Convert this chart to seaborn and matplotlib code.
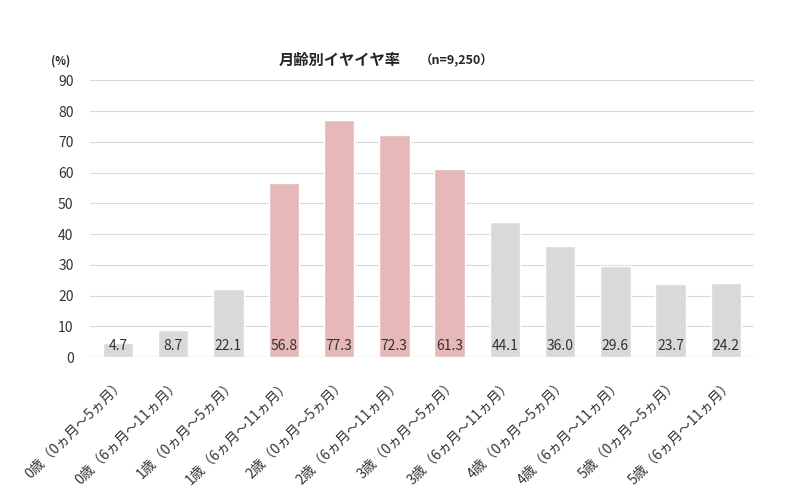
import matplotlib
matplotlib.use('Agg')
import matplotlib.pyplot as plt
import seaborn as sns
import pandas as pd

categories = ['0歳（0ヵ月～5ヵ月）', '0歳（6ヵ月～11ヵ月）', '1歳（0ヵ月～5ヵ月）', '1歳（6ヵ月～11ヵ月）',
              '2歳（0ヵ月～5ヵ月）', '2歳（6ヵ月～11ヵ月）', '3歳（0ヵ月～5ヵ月）', '3歳（6ヵ月～11ヵ月）',
              '4歳（0ヵ月～5ヵ月）', '4歳（6ヵ月～11ヵ月）', '5歳（0ヵ月～5ヵ月）', '5歳（6ヵ月～11ヵ月）']
values = [4.7, 8.7, 22.1, 56.8, 77.3, 72.3, 61.3, 44.1, 36.0, 29.6, 23.7, 24.2]
highlight = [False, False, False, True, True, True, True, False, False, False, False, False]

sns.set_theme(style='white')
plt.rcParams['font.family'] = ['Noto Sans CJK JP', 'DejaVu Sans']

df = pd.DataFrame({'cat': categories, 'val': values})
colors = ['#e6b8b7' if h else '#d9d9d9' for h in highlight]

fig = plt.figure(figsize=(7.85, 5.03), dpi=100)
ax = fig.add_axes([0.115, 0.29, 0.845, 0.55])
sns.barplot(data=df, x='cat', y='val', hue='cat', palette=colors, legend=False,
            width=0.55, saturation=1, ax=ax)

for i, v in enumerate(values):
    ax.text(i, 1.5, f'{v:.1f}', ha='center', va='bottom', fontsize=10, color='#333333')

ax.set_ylim(0, 90)
ax.set_yticks(range(0, 91, 10))
ax.yaxis.grid(True, color='#d9d9d9', linewidth=0.8)
ax.set_axisbelow(True)
for s in ax.spines.values():
    s.set_visible(False)
ax.axhline(0, color='#d9d9d9', linewidth=1)
ax.set_xlabel('')
ax.set_ylabel('')
ax.tick_params(axis='y', labelsize=10, length=0, colors='#333333', pad=12)
ax.set_xticks(range(len(categories)))
ax.set_xticklabels(categories, rotation=45, ha='right', rotation_mode='anchor', fontsize=10, color='#333333')
ax.tick_params(axis='x', length=0, pad=14)

fig.text(0.355, 0.87, '月齢別イヤイヤ率', fontsize=11, fontweight='bold', ha='left')
fig.text(0.535, 0.872, '（n=9,250）', fontsize=9, fontweight='bold', ha='left')
fig.text(0.065, 0.872, '(%)', fontsize=8, fontweight='bold', ha='left')

fig.savefig('out.png', dpi=100)
